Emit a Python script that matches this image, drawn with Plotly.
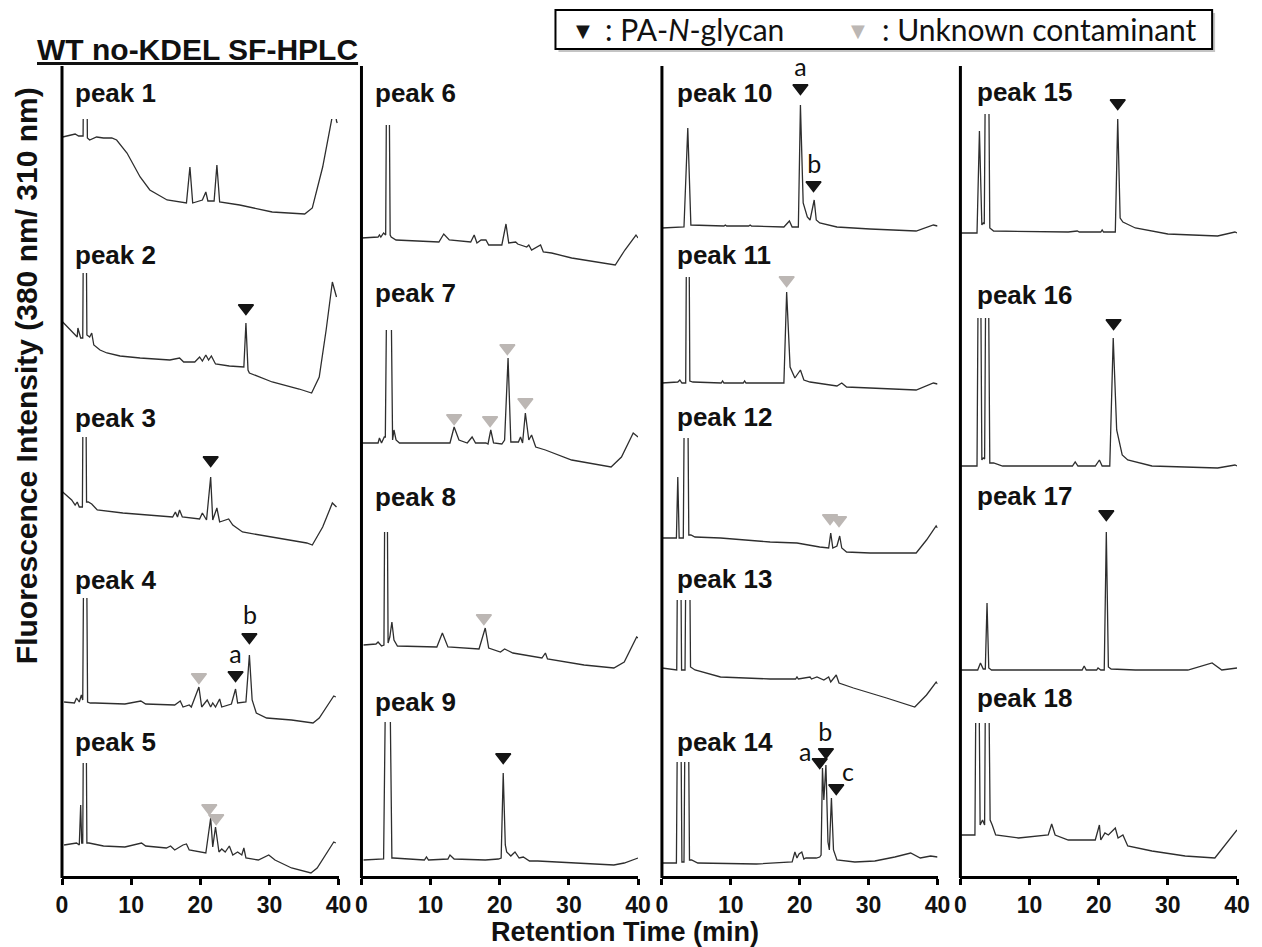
import plotly.graph_objects as go

# ---------------- DATA (retention time in min, fluorescence intensity in a.u. above each trace's own baseline) ----------------
pk1_t = [0.1, 1.9, 2.4, 3.05, 3.36, 3.67, 4.0, 5.0, 6.0, 7.2, 7.9, 9.4, 11.3, 12.7, 15.2, 18.0, 18.5, 18.9, 20.3, 20.8, 21.1, 22.0, 22.4, 22.8, 25.7, 30.4, 35.1, 36.2, 37.7, 39.1, 39.4, 39.7, 39.8]
pk1_y = [83, 86, 84, 84, 400, 82, 80, 83, 82, 82, 80, 67, 43, 30, 20, 17, 53, 17, 20, 28, 19, 19, 55, 18, 15, 8, 6, 12, 53, 100, 115, 99, 97]
pk2_t = [0.1, 1.2, 1.6, 2.2, 2.3, 2.7, 3.0, 3.3, 3.6, 4.0, 4.3, 4.6, 5.5, 6.5, 8.4, 11.3, 15.6, 17.0, 17.6, 19.2, 19.9, 20.3, 20.8, 21.2, 21.6, 22.2, 24.2, 26.3, 26.6, 26.9, 27.1, 30.4, 34.3, 36.1, 37.2, 38.2, 39.1, 39.7]
pk2_y = [78, 70, 67, 63, 72, 62, 62, 400, 65, 63, 67, 55, 50, 47, 44, 42, 40, 42, 38, 38, 43, 39, 45, 40, 44, 36, 34, 33, 77, 30, 27, 18, 11, 7, 23, 70, 118, 103]
pk3_t = [0.1, 1.4, 1.9, 2.2, 2.5, 2.95, 3.25, 3.55, 3.8, 4.3, 5.1, 8.8, 16.0, 16.4, 16.7, 17.0, 17.4, 19.9, 20.3, 20.9, 21.5, 21.8, 22.4, 22.8, 24.1, 24.7, 26.1, 30.4, 35.4, 36.2, 37.7, 39.1, 39.7]
pk3_y = [58, 50, 45, 48, 43, 43, 400, 48, 48, 46, 40, 37, 33, 38, 33, 40, 33, 31, 37, 30, 73, 30, 42, 28, 31, 25, 18, 13, 7, 5, 23, 47, 43]
pk4_t = [0.3, 1.8, 2.1, 2.5, 2.8, 3.0, 3.35, 3.7, 4.1, 4.8, 9.1, 11.4, 12.1, 16.3, 17.1, 17.5, 18.4, 18.7, 19.8, 20.2, 21.0, 21.5, 21.8, 22.2, 22.8, 23.1, 24.5, 25.1, 25.4, 26.6, 27.1, 27.5, 28.1, 29.6, 33.2, 36.3, 37.2, 39.3, 39.6]
pk4_y = [28, 27, 32, 28, 35, 30, 400, 28, 27, 27, 26, 29, 26, 25, 29, 23, 25, 23, 43, 23, 30, 23, 27, 23, 31, 23, 26, 41, 27, 28, 75, 30, 17, 12, 10, 7, 12, 34, 33]
pk5_t = [0.3, 2.1, 2.5, 2.7, 2.85, 3.0, 3.3, 3.6, 3.9, 6.0, 9.1, 11.5, 12.1, 15.1, 15.7, 16.3, 17.5, 18.0, 18.4, 19.9, 20.8, 21.5, 21.8, 22.2, 22.7, 23.1, 23.6, 24.2, 24.7, 25.4, 26.0, 26.3, 26.6, 28.4, 29.9, 30.8, 33.2, 36.0, 36.9, 39.3, 39.6]
pk5_y = [40, 42, 40, 80, 42, 42, 400, 42, 42, 39, 38, 42, 39, 37, 39, 35, 40, 41, 35, 33, 32, 67, 38, 58, 33, 36, 33, 39, 30, 33, 30, 37, 27, 25, 30, 25, 17, 12, 17, 43, 42]
pk6_t = [0.0, 2.4, 2.6, 2.8, 3.2, 3.5, 3.8, 4.15, 4.3, 5.0, 11.2, 11.9, 12.7, 15.8, 16.3, 16.7, 17.3, 18.0, 18.4, 20.3, 20.9, 21.3, 22.3, 22.6, 23.9, 24.2, 24.6, 25.9, 26.3, 27.5, 30.4, 35.3, 36.7, 38.1, 39.7, 40.0]
pk6_y = [32, 33, 35, 33, 37, 35, 400, 35, 33, 30, 28, 36, 30, 28, 35, 27, 30, 30, 25, 25, 46, 27, 28, 26, 23, 25, 20, 25, 18, 17, 12, 7, 5, 20, 35, 32]
pk7_t = [0.0, 2.4, 2.6, 2.9, 3.3, 3.45, 3.95, 4.4, 4.5, 4.7, 5.0, 5.5, 11.2, 12.8, 13.4, 14.1, 15.3, 16.0, 16.5, 18.0, 18.3, 18.7, 19.1, 20.3, 20.7, 21.2, 21.6, 22.7, 23.0, 23.3, 23.7, 24.2, 24.6, 25.2, 26.6, 30.4, 36.1, 37.6, 39.3, 40.0]
pk7_y = [27, 27, 32, 27, 33, 33, 400, 32, 30, 40, 30, 27, 27, 27, 43, 30, 27, 33, 27, 27, 26, 40, 27, 26, 30, 112, 28, 28, 33, 27, 57, 30, 35, 23, 20, 10, 3, 13, 37, 33]
pk8_t = [0.3, 2.1, 2.4, 2.9, 3.25, 3.55, 3.85, 4.1, 4.4, 4.7, 5.2, 10.9, 11.7, 12.5, 17.0, 17.9, 18.4, 20.1, 20.7, 21.9, 26.1, 26.6, 26.9, 32.2, 36.5, 38.0, 39.8, 40.0]
pk8_y = [30, 31, 33, 29, 30, 400, 32, 38, 53, 35, 29, 28, 42, 28, 26, 47, 27, 23, 26, 22, 17, 22, 16, 10, 7, 13, 38, 37]
pk9_t = [0.3, 2.7, 3.2, 3.8, 4.4, 4.6, 9.1, 9.4, 9.7, 12.5, 12.8, 13.4, 17.9, 19.8, 20.2, 20.5, 20.8, 21.0, 21.6, 22.2, 22.8, 23.4, 24.3, 25.5, 32.2, 36.5, 38.0, 40.0]
pk9_y = [25, 26, 26, 400, 27, 27, 25, 28, 25, 26, 30, 26, 25, 26, 27, 112, 40, 33, 29, 33, 27, 28, 24, 24, 22, 20, 22, 27]
pk10_t = [0.0, 3.2, 3.75, 4.2, 9.0, 9.2, 9.4, 12.6, 12.8, 13.0, 17.7, 18.5, 18.9, 19.8, 20.1, 20.5, 21.1, 21.5, 22.1, 22.4, 22.9, 25.4, 30.2, 36.9, 39.4, 40.0]
pk10_y = [12, 13, 112, 15, 14, 15, 14, 14, 15, 14, 13, 19, 13, 13, 135, 37, 23, 20, 40, 20, 17, 13, 11, 9, 15, 14]
pk11_t = [0.0, 2.3, 2.6, 2.9, 3.45, 3.75, 4.05, 4.5, 8.6, 8.8, 9.0, 11.8, 12.0, 12.2, 17.7, 18.1, 18.6, 19.3, 20.1, 20.6, 21.5, 25.4, 26.1, 26.8, 30.2, 36.9, 39.4, 40.0]
pk11_y = [12, 13, 15, 12, 12, 400, 14, 13, 12, 14, 12, 12, 14, 12, 12, 103, 28, 17, 25, 15, 13, 9, 12, 8, 7, 5, 12, 11]
pk12_t = [0.0, 2.1, 2.3, 2.5, 3.1, 3.5, 3.9, 4.2, 4.8, 8.5, 15.7, 19.6, 22.9, 24.2, 24.5, 24.8, 25.4, 25.8, 26.1, 26.8, 30.2, 36.9, 38.4, 39.8, 40.0]
pk12_y = [22, 22, 83, 22, 22, 400, 25, 25, 23, 22, 18, 17, 13, 12, 27, 12, 14, 24, 12, 8, 7, 7, 20, 34, 32]
pk13_t = [0.0, 1.9, 2.15, 2.5, 2.85, 3.35, 3.75, 4.15, 4.8, 8.5, 15.7, 19.4, 19.6, 19.8, 21.5, 21.7, 22.5, 23.5, 24.2, 24.5, 25.3, 25.7, 27.8, 32.6, 36.7, 38.4, 39.8, 40.0]
pk13_y = [47, 45, 45, 400, 45, 45, 400, 48, 45, 38, 36, 36, 38, 36, 38, 36, 38, 35, 38, 33, 40, 32, 27, 17, 8, 20, 33, 31]
pk14_t = [0.0, 2.1, 2.5, 2.9, 3.2, 3.6, 4.0, 4.3, 5.2, 13.7, 18.9, 19.3, 19.6, 19.9, 20.3, 20.6, 20.9, 22.4, 22.9, 23.1, 23.3, 23.5, 23.8, 24.1, 24.3, 24.6, 24.9, 25.4, 28.0, 30.9, 33.8, 36.1, 37.5, 39.0, 40.0]
pk14_y = [17, 17, 400, 18, 18, 400, 20, 20, 17, 16, 18, 28, 22, 26, 28, 21, 22, 22, 23, 25, 112, 80, 115, 38, 30, 82, 30, 20, 18, 19, 23, 27, 22, 24, 23]
pk15_t = [0.0, 2.4, 2.75, 3.1, 3.3, 3.45, 3.85, 4.25, 4.8, 15.6, 16.9, 17.2, 20.3, 20.5, 20.7, 22.4, 22.75, 23.1, 23.5, 25.3, 30.0, 37.2, 39.7, 40.0]
pk15_y = [7, 7, 109, 15, 17, 16, 400, 12, 9, 8, 9, 8, 8, 10, 8, 8, 121, 22, 18, 12, 6, 4, 8, 7]
pk16_t = [0.0, 2.4, 2.75, 3.1, 3.3, 3.5, 3.85, 4.25, 4.8, 6.1, 16.2, 16.6, 17.0, 19.5, 20.1, 20.5, 21.6, 22.1, 22.6, 23.4, 24.2, 27.7, 37.2, 39.7, 40.0]
pk16_y = [9, 9, 400, 15, 17, 16, 400, 12, 12, 9, 9, 13, 9, 9, 15, 9, 9, 137, 45, 20, 15, 9, 7, 10, 9]
pk17_t = [0.0, 2.5, 2.9, 3.3, 3.6, 3.85, 4.1, 4.5, 10.8, 17.6, 17.9, 18.2, 19.7, 19.9, 20.3, 20.8, 21.1, 21.4, 21.8, 25.3, 32.9, 36.4, 37.8, 40.0]
pk17_y = [5, 5, 12, 6, 6, 72, 7, 5, 5, 5, 9, 5, 5, 7, 5, 5, 143, 8, 6, 5, 5, 12, 5, 7]
pk18_t = [0.0, 2.1, 2.45, 2.85, 3.2, 3.5, 3.8, 4.3, 4.6, 5.1, 8.4, 12.7, 13.2, 13.7, 15.6, 19.5, 20.1, 20.3, 20.9, 21.4, 22.4, 22.8, 23.5, 24.2, 27.7, 32.5, 36.8, 38.7, 40.0]
pk18_y = [35, 35, 400, 45, 50, 45, 400, 50, 45, 35, 32, 35, 46, 35, 30, 30, 45, 30, 37, 35, 42, 32, 35, 24, 19, 14, 12, 29, 40]

traces_t = [pk1_t, pk2_t, pk3_t, pk4_t, pk5_t, pk6_t, pk7_t, pk8_t, pk9_t,
            pk10_t, pk11_t, pk12_t, pk13_t, pk14_t, pk15_t, pk16_t, pk17_t, pk18_t]
traces_y = [pk1_y, pk2_y, pk3_y, pk4_y, pk5_y, pk6_y, pk7_y, pk8_y, pk9_y,
            pk10_y, pk11_y, pk12_y, pk13_y, pk14_y, pk15_y, pk16_y, pk17_y, pk18_y]
trace_names = [f"peak {i}" for i in range(1, 19)]

# PA-N-glycan arrows (trace number, time, height)
gly_trace = [2, 3, 4, 4, 9, 10, 10, 14, 14, 14, 15, 16, 17]
gly_t = [26.6, 21.5, 25.1, 27.1, 20.5, 20.1, 22.0, 22.9, 23.8, 25.3, 22.75, 22.15, 21.1]
gly_h = [92, 90, 55, 93, 128, 152, 55, 118, 128, 92, 137, 152, 161]
# Unknown contaminant arrows
unk_trace = [4, 5, 5, 7, 7, 7, 7, 8, 11, 12, 12]
unk_t = [19.8, 21.3, 22.3, 13.4, 18.6, 21.1, 23.7, 17.7, 18.1, 24.4, 25.7]
unk_h = [53, 77, 67, 52, 50, 122, 68, 57, 115, 42, 40]
# isomer letters
let_trace = [4, 4, 10, 10, 14, 14, 14]
let_text = ["a", "b", "a", "b", "a", "b", "c"]
let_t = [25.1, 27.2, 20.1, 22.1, 20.8, 23.7, 27.0]
let_h = [73, 112, 170, 73, 125, 145, 105]

x_ticks = [0, 10, 20, 30, 40]

# ---------------- LAYOUT (geometry in reference-image pixels) ----------------
OFF = 8                      # page body margin of the html page
W, H = 1262 - OFF, 947 - OFF
REF_L, REF_R, REF_T, REF_B = 62, 1243, 66, 877
PW, PH = REF_R - REF_L, REF_B - REF_T
M_L, M_T = REF_L - OFF, REF_T - OFF
M_R, M_B = W - (REF_R - OFF), H - (REF_B - OFF)


def fx(px):
    return (px - REF_L) / PW


def fy(py):
    return (REF_B - py) / PH


panel_px = [(62, 340), (363, 641), (665, 942), (965, 1243)]
label_px = [73, 375, 678, 980]
trace_panel = [0, 0, 0, 0, 0, 1, 1, 1, 1, 2, 2, 2, 2, 2, 3, 3, 3, 3]
trace_base = [220, 400, 550, 730, 885, 270, 470, 675, 885, 240, 395, 560, 715, 880, 240, 475, 675, 870]
trace_clip = [119, 273, 437, 598, 763, 125, 330, 532, 722, 66, 277, 438, 600, 762, 114, 318, 480, 723]
label_py = [93, 255, 418, 580, 742, 93, 293, 497, 702, 93, 255, 417, 579, 742, 92, 295, 496, 698]

LINE_COL = "#2e2e2e"
GLY_COL = "#151515"
UNK_COL = "#bcb7b4"
ARIAL = "Liberation Sans, Arial, sans-serif"
CALIBRI = "Lato, Carlito, Calibri, sans-serif"
N = len(traces_t)

fig = go.Figure()
lay = dict(
    width=W, height=H,
    margin=dict(l=M_L, r=M_R, t=M_T, b=M_B, pad=0),
    paper_bgcolor="white", plot_bgcolor="rgba(0,0,0,0)",
    showlegend=False,
)

for k, (a, b) in enumerate(panel_px):
    lay[f"xaxis{k + 1}"] = dict(
        domain=[max(0, fx(a)), min(1, fx(b))], range=[0, 40], anchor="free", position=0,
        showline=True, linecolor="black", linewidth=3,
        ticks="outside", ticklen=6, tickwidth=3, tickcolor="black",
        tickvals=x_ticks, showgrid=False, zeroline=False,
        tickfont=dict(family=ARIAL, size=23, color="#111", weight="bold"),
        fixedrange=True,
    )

for i in range(N):
    p = trace_panel[i]
    base, clip = trace_base[i], max(trace_clip[i], REF_T)
    lo = min(base, REF_B)
    # clipped axis for the chromatogram line (off-scale peaks are cut at the top)
    lay[f"yaxis{i + 1}"] = dict(
        domain=[fy(lo), fy(clip)], range=[base - lo, base - clip],
        visible=False, anchor=f"x{p + 1}", fixedrange=True,
    )
    # same scale, full height: for arrows and letters above the trace
    lay[f"yaxis{N + i + 1}"] = dict(
        domain=[fy(lo), fy(REF_T)], range=[base - lo, base - REF_T],
        visible=False, anchor=f"x{p + 1}", fixedrange=True,
    )
    fig.add_trace(go.Scatter(
        x=traces_t[i], y=traces_y[i], xaxis=f"x{p + 1}", yaxis=f"y{i + 1}",
        mode="lines", line=dict(color=LINE_COL, width=1.3), name=trace_names[i],
        hoverinfo="skip",
    ))


def add_markers(tr_list, t_list, h_list, color):
    for i in sorted(set(tr_list)):
        xs = [t for tr, t in zip(tr_list, t_list) if tr == i]
        ys = [h for tr, h in zip(tr_list, h_list) if tr == i]
        p = trace_panel[i - 1]
        fig.add_trace(go.Scatter(
            x=xs, y=ys, xaxis=f"x{p + 1}", yaxis=f"y{N + i}", mode="markers",
            marker=dict(symbol="triangle-down", size=13, color=color, line=dict(width=1.5, color=color)),
            cliponaxis=False, hoverinfo="skip",
        ))


add_markers(gly_trace, gly_t, gly_h, GLY_COL)
add_markers(unk_trace, unk_t, unk_h, UNK_COL)

for i in sorted(set(let_trace)):
    idx = [j for j, tr in enumerate(let_trace) if tr == i]
    p = trace_panel[i - 1]
    fig.add_trace(go.Scatter(
        x=[let_t[j] for j in idx], y=[let_h[j] for j in idx], text=[let_text[j] for j in idx],
        xaxis=f"x{p + 1}", yaxis=f"y{N + i}", mode="text", textposition="middle center",
        textfont=dict(family=CALIBRI, size=25, color="#111"), cliponaxis=False, hoverinfo="skip",
    ))

shapes = []
for k, (a, b) in enumerate(panel_px):
    shapes.append(dict(type="line", xref="paper", yref="paper", x0=fx(a), x1=fx(a),
                       y0=fy(REF_B + 1), y1=fy(REF_T), line=dict(color="black", width=3)))

# legend box with shadow
bx0, bx1, by0, by1 = 558, 1218, 10, 49
shapes.append(dict(type="rect", xref="paper", yref="paper", x0=fx(bx0 + 3), x1=fx(bx1 + 3),
                   y0=fy(by1 + 3), y1=fy(by0 + 3), line=dict(width=0), fillcolor="#c4c4c4", layer="above"))
shapes.append(dict(type="rect", xref="paper", yref="paper", x0=fx(bx0), x1=fx(bx1),
                   y0=fy(by1), y1=fy(by0), line=dict(color="black", width=2), fillcolor="white", layer="above"))

ann = []
for i in range(N):
    ann.append(dict(xref="paper", yref="paper", x=fx(label_px[trace_panel[i]]), y=fy(label_py[i]),
                    xanchor="left", yanchor="middle", showarrow=False, text=f"<b>{trace_names[i]}</b>",
                    font=dict(family=ARIAL, size=26, color="#111")))

ann.append(dict(xref="paper", yref="paper", x=fx(35), y=fy(50), xanchor="left", yanchor="middle",
                showarrow=False, text="<b><u>WT no-KDEL SF-HPLC</u></b>",
                font=dict(family=ARIAL, size=30, color="#111")))
ann.append(dict(xref="paper", yref="paper", x=fx(26), y=fy(376), xanchor="center", yanchor="middle",
                showarrow=False, textangle=-90, text="<b>Fluorescence Intensity (380 nm/ 310 nm)</b>",
                font=dict(family=ARIAL, size=30, color="#111")))
ann.append(dict(xref="paper", yref="paper", x=fx(628), y=fy(932), xanchor="center", yanchor="middle",
                showarrow=False, text="<b>Retention Time (min)</b>",
                font=dict(family=ARIAL, size=27, color="#111")))
# legend contents
ann.append(dict(xref="paper", yref="paper", x=fx(586), y=fy(30), xanchor="center", yanchor="middle",
                showarrow=False, text="▼", font=dict(family="DejaVu Sans", size=18, color=GLY_COL)))
ann.append(dict(xref="paper", yref="paper", x=fx(606), y=fy(29), xanchor="left", yanchor="middle",
                showarrow=False, text=": PA-<i>N</i>-glycan", font=dict(family=CALIBRI, size=30, color="#111")))
ann.append(dict(xref="paper", yref="paper", x=fx(862), y=fy(30), xanchor="center", yanchor="middle",
                showarrow=False, text="▼", font=dict(family="DejaVu Sans", size=18, color=UNK_COL)))
ann.append(dict(xref="paper", yref="paper", x=fx(884), y=fy(29), xanchor="left", yanchor="middle",
                showarrow=False, text=": Unknown contaminant", font=dict(family=CALIBRI, size=30, color="#111")))

lay["shapes"] = shapes
lay["annotations"] = ann
fig.update_layout(**lay)
fig.write_html("out.html")
